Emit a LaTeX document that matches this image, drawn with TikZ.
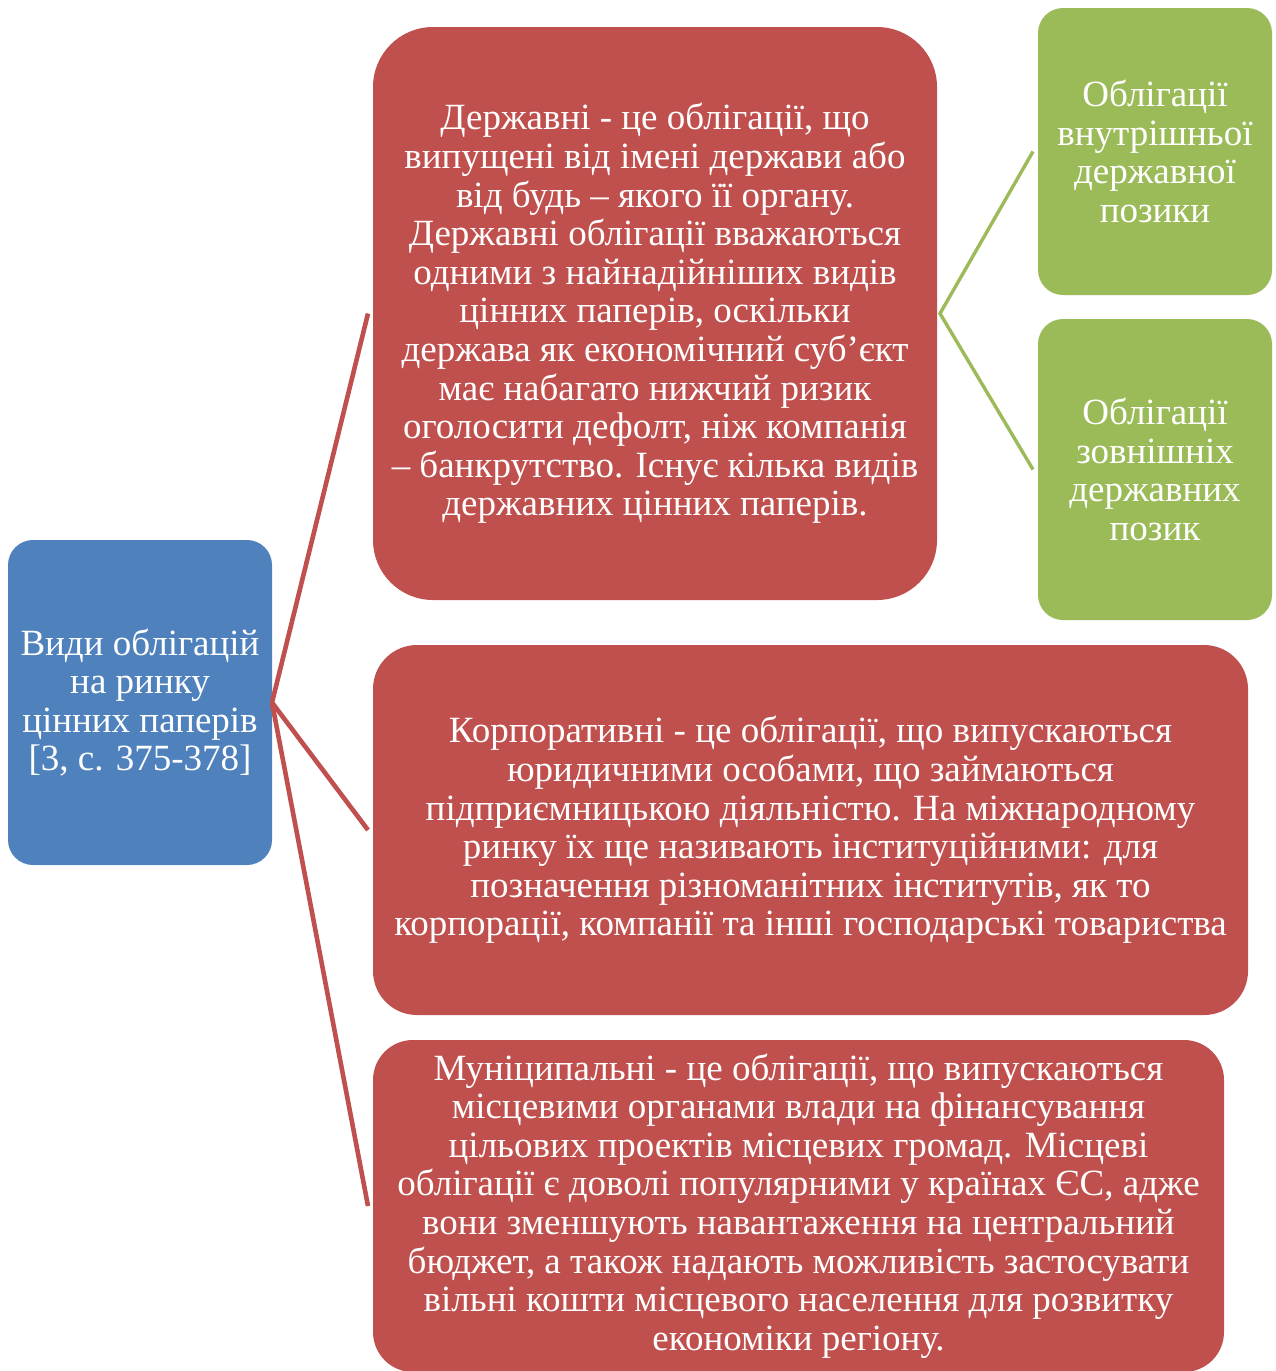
\documentclass[tikz,border=0pt]{standalone}
\usepackage{fontspec}
\setmainfont{Liberation Serif}
\definecolor{cblue}{HTML}{4F81BD}
\definecolor{cred}{HTML}{C0504D}
\definecolor{cgreen}{HTML}{9BBB59}
\begin{document}
\begin{tikzpicture}[x=0.5pt,y=-0.5pt,
  box/.style={inner sep=0pt,outer sep=0pt,align=center,text=white,
    font=\fontsize{18.5}{19.3}\selectfont},
  bluebox/.style={box,fill=cblue,rounded corners=12.5pt},
  redbox/.style={box,fill=cred},
  greenbox/.style={box,fill=cgreen,rounded corners=12.5pt},
  redline/.style={draw=cred,line width=2.3pt},
  greenline/.style={draw=cgreen,line width=1.7pt}]
\useasboundingbox (0,0) rectangle (1275,1371);

\node[bluebox,minimum width=132pt,minimum height=162.5pt] (root) at (140,702.5)
  {Види облігацій\\на ринку\\цінних паперів\\{[3, с. 375-378]}};

\node[redbox,rounded corners=30pt,minimum width=282pt,minimum height=286.5pt] (r1) at (655,313.5)
  {Державні - це облігації, що\\
   випущені від імені держави або\\
   від будь – якого її органу.\\
   Державні облігації вважаються\\
   одними з найнадійніших видів\\
   цінних паперів, оскільки\\
   держава як економічний суб’єкт\\
   має набагато нижчий ризик\\
   оголосити дефолт, ніж компанія\\
   – банкрутство. Існує кілька видів\\
   державних цінних паперів.};

\node[greenbox,minimum width=117pt,minimum height=143.5pt] (g1) at (1155,151.5)
  {Облігації\\внутрішньої\\державної\\позики};
\node[greenbox,minimum width=117pt,minimum height=150.5pt] (g2) at (1155,469.5)
  {Облігації\\зовнішніх\\державних\\позик};

\node[redbox,rounded corners=22pt,minimum width=437.5pt,minimum height=185pt] (r2) at (810.5,830)
  {Корпоративні - це облігації, що випускаються\\
   юридичними особами, що займаються\\
   підприємницькою діяльністю. На міжнародному\\
   ринку їх ще називають інституційними: для\\
   позначення різноманітних інститутів, як то\\
   корпорації, компанії та інші господарські товариства};

\node[redbox,rounded corners=20pt,minimum width=425.5pt,minimum height=166pt] (r3) at (798.5,1206)
  {Муніципальні - це облігації, що випускаються\\
   місцевими органами влади на фінансування\\
   цільових проектів місцевих громад. Місцеві\\
   облігації є доволі популярними у країнах ЄС, адже\\
   вони зменшують навантаження на центральний\\
   бюджет, а також надають можливість застосувати\\
   вільні кошти місцевого населення для розвитку\\
   економіки регіону.};

\draw[redline] (root.east) -- ([xshift=-2.5pt]r1.west);
\draw[redline] (root.east) -- ([xshift=-2.5pt]r2.west);
\draw[redline] (root.east) -- ([xshift=-2.5pt]r3.west);
\draw[greenline] ([xshift=-2.5pt]g1.west) -- ([xshift=1.5pt]r1.east) -- ([xshift=-2.5pt]g2.west);
\end{tikzpicture}
\end{document}
